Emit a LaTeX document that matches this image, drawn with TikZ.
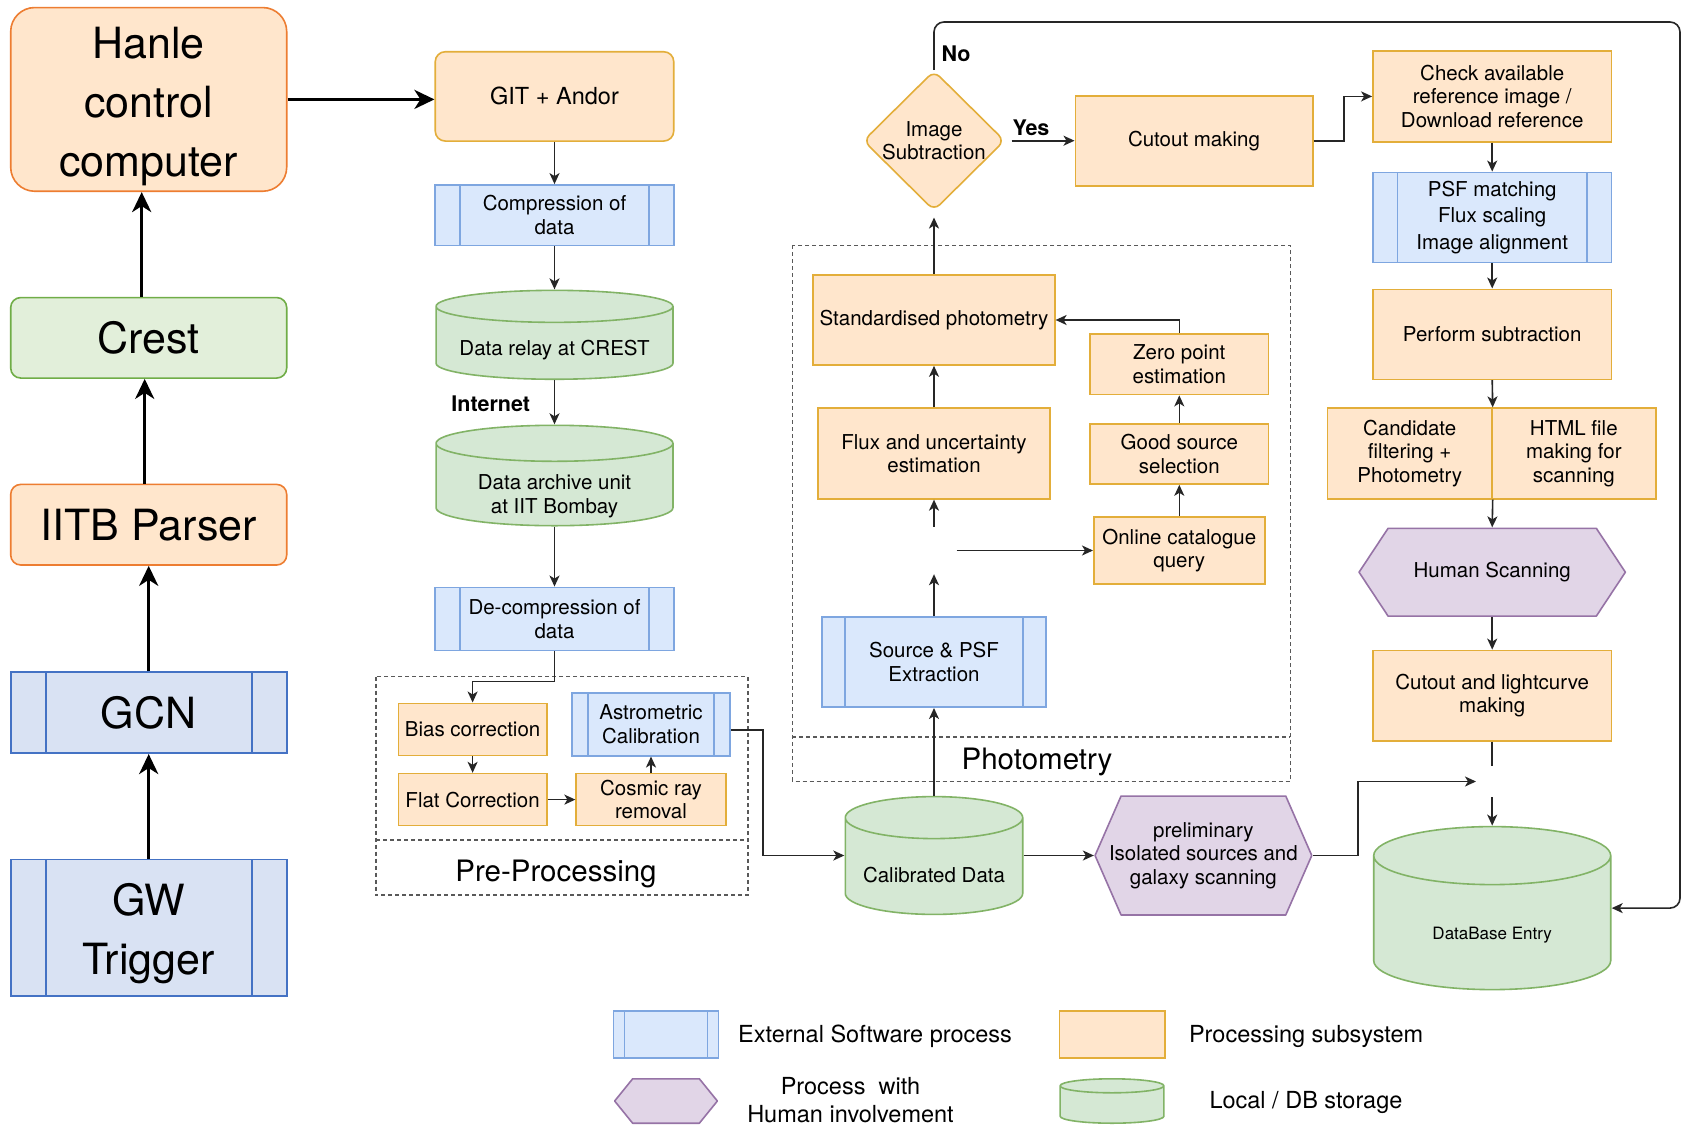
\documentclass[tikz,border=0pt]{standalone}
\usepackage{fontspec}
\setmainfont{TeX Gyre Heros}
\usetikzlibrary{arrows.meta,shapes.geometric,calc}

% colours
\definecolor{orfill}{HTML}{FFE6CC}
\definecolor{orline}{HTML}{E3AE3A}
\definecolor{hotline}{HTML}{ED7D31}
\definecolor{bufill}{HTML}{DAE8FC}
\definecolor{buline}{HTML}{7EA6E0}
\definecolor{gcfill}{HTML}{D9E2F3}
\definecolor{gcline}{HTML}{4472C4}
\definecolor{grfill}{HTML}{D5E8D4}
\definecolor{grline}{HTML}{82B366}
\definecolor{crfill}{HTML}{E2EFDA}
\definecolor{crline}{HTML}{70AD47}
\definecolor{pufill}{HTML}{E1D5E7}
\definecolor{puline}{HTML}{9673A6}
\definecolor{wire}{HTML}{262626}

\newcommand{\nodefont}{\fontsize{20.5}{23.6}\selectfont}
\newcommand{\bigfont}{\fontsize{43}{59}\selectfont}
\newcommand{\tagfont}{\fontsize{29.5}{34}\selectfont}
\newcommand{\keyfont}{\fontsize{23.5}{28.5}\selectfont}
\newcommand{\barcolour}{buline}

\tikzset{
  box/.style={rectangle, draw=orline, fill=orfill, line width=1.6pt, inner sep=2pt,
    align=center, font=\nodefont},
  bigbox/.style={rectangle, draw=hotline, fill=orfill, line width=1.6pt, inner sep=0pt,
    minimum width=276pt, align=center, font=\bigfont},
  barline/.store in=\barcolour,
  barred/.style={path picture={
    \draw[\barcolour, line width=1.6pt]
      ([xshift=#1]path picture bounding box.north west) -- ([xshift=#1]path picture bounding box.south west)
      ([xshift=-#1]path picture bounding box.north east) -- ([xshift=-#1]path picture bounding box.south east);}},
  extproc/.style={box, draw=buline, fill=bufill, barred=#1},
  extproc/.default=24.7pt,
  store/.style={rectangle, draw=none, fill=white, inner sep=0pt, path picture={
    \path[draw=grline, fill=grfill, line width=1.6pt]
      let \p1=([xshift=0.8pt,yshift=-0.8pt]path picture bounding box.north west),
          \p2=([xshift=-0.8pt,yshift=0.8pt]path picture bounding box.south east),
          \n1={(\x2-\x1)/2} in
      (\x1,\y1-#1) -- (\x1,\y2+#1)
      arc[start angle=180, end angle=360, x radius=\n1, y radius=#1]
      -- (\x2,\y1-#1)
      arc[start angle=0, end angle=180, x radius=\n1, y radius=#1] -- cycle
      (\x1,\y1-#1) arc[start angle=180, end angle=360, x radius=\n1, y radius=#1];}},
  storetext/.style={font=\nodefont, align=center, yshift=-#1},
  hexa/.style={rectangle, draw=none, fill=white, inner sep=0pt, align=center, font=\nodefont,
    path picture={
    \draw[puline, fill=pufill, line width=1.6pt, line join=round]
      ([xshift=1pt]path picture bounding box.west)
      -- ([xshift=#1, yshift=-0.8pt]path picture bounding box.north west)
      -- ([xshift=-#1, yshift=-0.8pt]path picture bounding box.north east)
      -- ([xshift=-1pt]path picture bounding box.east)
      -- ([xshift=-#1, yshift=0.8pt]path picture bounding box.south east)
      -- ([xshift=#1, yshift=0.8pt]path picture bounding box.south west) -- cycle;}},
  flag/.style={font=\fontsize{21.5}{24}\selectfont\bfseries, inner sep=0pt},
  gap/.style={minimum width=#1, inner sep=0pt},
}

\begin{document}
\begin{tikzpicture}[x=1pt, y=-1pt,
    link/.style={draw=wire, line width=1.6pt, -{Stealth[length=11pt, width=10pt, inset=3pt]}},
    biglink/.style={draw=black, line width=3.2pt, -{Stealth[length=20pt, width=19pt, inset=6pt]}},
    group/.style={draw=black!65, line width=1.5pt, dash pattern=on 4pt off 3pt}]
\fill[white] (0,0) rectangle (1684,1127);
\useasboundingbox (0,0) rectangle (1684,1127);

% groups
\draw[group] (376,676.6) rectangle (748,895.2);
\draw[group] (376,840) -- (748,840);
\node[font=\tagfont] (prelbl) at (556,873.5) {Pre-Processing};
\draw[group] (792.4,245.4) rectangle (1290.4,781.3);
\draw[group] (792.4,737.2) -- (1290.4,737.2);
\node[font=\tagfont] (photlbl) at (1037,762) {Photometry};

% left column
\node[bigbox, rounded corners=24pt, minimum height=183.7pt] (hanle) at (148.7,99.4) {\rule{0pt}{45pt}Hanle\\control\\computer};
\node[bigbox, draw=crline, fill=crfill, rounded corners=10pt, minimum height=80.5pt] (crest) at (148.7,337.8) {Crest};
\node[bigbox, rounded corners=10pt, minimum height=80.6pt] (iitb) at (148.7,524.7) {IITB Parser};
\node[extproc=35pt, barline=gcline, draw=gcline, fill=gcfill, font=\bigfont, minimum width=276pt, minimum height=81pt] (gcn) at (148.7,712.7) {GCN};
\node[extproc=35pt, barline=gcline, draw=gcline, fill=gcfill, font=\bigfont, minimum width=276pt, minimum height=136.4pt] (gw) at (148.7,927.5) {\rule{0pt}{45pt}GW\\Trigger};

% data transfer
\node[box, rounded corners=10pt, minimum width=238.5pt, minimum height=89.3pt, font=\fontsize{23.5}{27}\selectfont] (git) at (554.5,96.4) {GIT + Andor};
\node[extproc, minimum width=238.5pt, minimum height=60.6pt] (comp) at (554.5,215.2) {Compression of\\data};
\node[store=16pt, minimum width=238.5pt, minimum height=90.5pt,
  label={[storetext=15pt]center:Data relay at CREST}] (relay) at (554.5,334.8) {};
\node[store=18pt, minimum width=238.5pt, minimum height=102pt,
  label={[storetext=21pt]center:Data archive unit\\at IIT Bombay}] (archive) at (554.5,475.5) {};
\node[extproc, minimum width=238.5pt, minimum height=63.3pt] (decomp) at (554.5,619) {De-compression of\\data};
\node[flag] (netlbl) at (490.8,403.6) {Internet};

% pre-processing
\node[box, minimum width=148.2pt, minimum height=52pt] (bias) at (472.6,729.3) {Bias correction};
\node[box, minimum width=148.2pt, minimum height=52pt] (flat) at (472.6,799.6) {Flat Correction};
\node[box, minimum width=149.7pt, minimum height=52pt] (cosmic) at (651,799.6) {Cosmic ray\\removal};
\node[extproc=16pt, minimum width=158pt, minimum height=63pt] (astro) at (651,724.2) {Astrometric\\Calibration};

% photometry
\node[store=21pt, minimum width=179pt, minimum height=119.4pt,
  label={[storetext=20pt]center:Calibrated Data}] (calib) at (934,855.5) {};
\node[extproc=23.5pt, minimum width=224.5pt, minimum height=90.4pt] (src) at (934,662) {Source \& PSF\\Extraction};
\node[gap=45pt, minimum height=47pt] (split) at (934,550.5) {};
\node[box, minimum width=232.3pt, minimum height=90.7pt] (flux) at (934,453.5) {Flux and uncertainty\\estimation};
\node[box, minimum width=241.6pt, minimum height=90pt] (std) at (934,320) {Standardised photometry};
\node[box, minimum width=171pt, minimum height=67.4pt] (online) at (1179.3,550.5) {Online catalogue\\query};
\node[box, minimum width=178.5pt, minimum height=60pt] (good) at (1179.3,454) {Good source\\selection};
\node[box, minimum width=178.5pt, minimum height=60.6pt] (zero) at (1179.3,364.3) {Zero point\\estimation};
\node[diamond, draw=orline, fill=orfill, line width=1.6pt, aspect=1, inner sep=-6pt,
  minimum width=141.5pt, minimum height=140pt, rounded corners=8pt, align=center,
  font=\nodefont] (isub) at (934,140.7) {Image\\Subtraction};
\node[flag] (nolbl) at (956,53.6) {No};
\node[flag] (yeslbl) at (1031,127.5) {Yes};
\node[box, minimum width=237.4pt, minimum height=90pt] (cutout) at (1194,140.7) {Cutout making};
\node[hexa=27pt, minimum width=218.7pt, minimum height=120.5pt] (prelim) at (1203.4,855.5) {preliminary\\Isolated sources and\\galaxy scanning};
\coordinate (loop) at (1680,22);

% subtraction
\node[box, minimum width=238.6pt, minimum height=90.8pt] (check) at (1492.2,96.4) {Check available\\reference image /\\Download reference};
\node[extproc, minimum width=238.6pt, minimum height=90.3pt] (psf) at (1492.2,217.5) {PSF matching\\[3pt]Flux scaling\\[3pt]Image alignment};
\node[box, minimum width=238.6pt, minimum height=90pt] (perf) at (1492.2,334.3) {Perform subtraction};
\node[box, minimum width=164.4pt, minimum height=90.7pt] (cand) at (1409.7,453.5) {Candidate\\filtering +\\Photometry};
\node[box, minimum width=163.8pt, minimum height=90.7pt] (html) at (1573.8,453.5) {HTML file\\making for\\scanning};
\node[hexa=30pt, minimum width=268.3pt, minimum height=89.3pt] (human) at (1492.2,572.2) {Human Scanning};
\node[box, minimum width=238.6pt, minimum height=90.4pt] (lc) at (1492.2,695.6) {Cutout and lightcurve\\making};
\node[gap=32pt, minimum height=31pt] (merge) at (1492.2,781.5) {};
\node[store=29pt, minimum width=238.6pt, minimum height=164.6pt,
  label={[storetext=27pt, font=\fontsize{17}{20}\selectfont]center:DataBase Entry}] (db) at (1492.2,908.1) {};

% legend
\node[extproc=11pt, minimum width=104.7pt, minimum height=47pt] (keyext) at (666,1034.5) {};
\node[font=\keyfont, anchor=west] (keyexttxt) at (734.6,1036) {External Software process};
\node[box, minimum width=105.4pt, minimum height=47pt] (keyproc) at (1112,1034.5) {};
\node[font=\keyfont, anchor=west] (keyproctxt) at (1185.5,1036) {Processing subsystem};
\node[hexa=19pt, minimum width=104.7pt, minimum height=46pt] (keyhex) at (666,1101) {};
\node[font=\fontsize{23.5}{27.5}\selectfont, align=center] (keyhextxt) at (850.5,1100) {Process\ \ with\\Human involvement};
\node[store=7pt, minimum width=105.4pt, minimum height=46pt] (keycyl) at (1112,1101) {};
\node[font=\keyfont, anchor=west] (keycyltxt) at (1206,1102.5) {Local / DB storage};

% left chain
\draw[biglink] (gw) -- (gcn);
\draw[biglink] (gcn) -- (iitb);
\draw[biglink] ([xshift=-4pt]iitb.north) -- ([xshift=-4pt]crest.south);
\draw[biglink] ([xshift=-7pt]crest.north) -- ([xshift=-7pt]hanle.south);
\draw[biglink] (hanle.east) -- (hanle.east -| git.west);

% transfer and pre-processing
\draw[link] (git) -- (comp);
\draw[link] (comp) -- (relay);
\draw[link] (relay) -- (archive);
\draw[link] (archive) -- (decomp);
\draw[link] (decomp.south) -- ++(0,30) -| (bias.north);
\draw[link] (bias) -- (flat);
\draw[link] (flat) -- (cosmic);
\draw[link] (cosmic) -- (astro);
\draw[link] ([yshift=-6pt]astro.east) -- ++(32,0) |- (calib.west);

% photometry
\draw[link] (calib) -- (src);
\draw[link] (src) -- (split);
\draw[link] (split) -- (flux);
\draw[link] (split.east) -- (split.east -| online.west);
\draw[link] (online) -- (good);
\draw[link] (good) -- (zero);
\draw[link] (zero.north) |- (std.east);
\draw[link] (flux) -- (std);
\draw[link, shorten >=6pt] (std) -- (isub);
\draw[link, shorten <=6pt] (isub) -- (cutout);
\draw[link, rounded corners=10pt] (isub.north) |- (loop) |- (db.east);
\draw[link] (calib) -- (prelim);
\draw[link] (prelim.east) -- ++(45.3,0) |- (merge.west);

% subtraction
\draw[link] (cutout.east) -- ++(30.7,0) |- (check.west);
\draw[link] (check) -- (psf);
\draw[link] (psf) -- (perf);
\draw[link] (perf.south) -- (cand.north east);
\draw[link] (cand.south east) -- (human.north);
\draw[link] (human) -- (lc);
\draw[draw=wire, line width=1.6pt] (lc) -- (merge);
\draw[link] (merge) -- (db);
\end{tikzpicture}
\end{document}
